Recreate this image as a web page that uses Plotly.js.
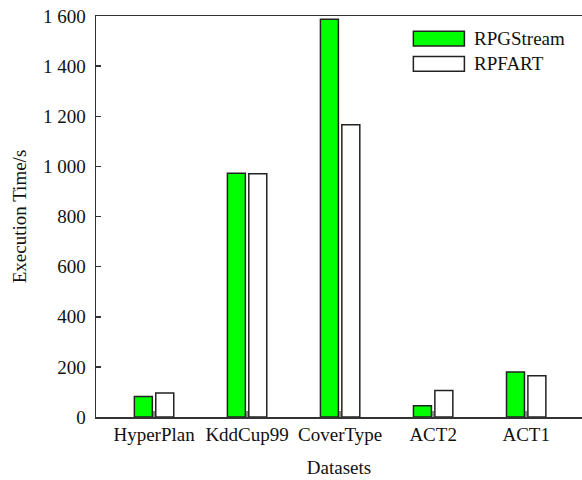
<!DOCTYPE html>
<html>
<head>
<meta charset="utf-8">
<script src="https://cdn.plot.ly/plotly-3.0.1.min.js"></script>
<style>html,body{margin:0;padding:0;background:#fff;}#chart{width:582px;height:480px;}</style>
</head>
<body>
<div id="chart"></div>
<script>
const categories = ["HyperPlan", "KddCup99", "CoverType", "ACT2", "ACT1"];
const seriesNames = ["RPGStream", "RPFART"];
const rpgstream = [82, 973, 1587, 45, 180];
const rpfart = [96, 971, 1166, 106, 165];
const yTicks = [0, 200, 400, 600, 800, 1000, 1200, 1400, 1600];

const font = {family: "Liberation Serif, Times New Roman, serif", size: 19, color: "#111"};

const traces = [
  {type: "bar", name: seriesNames[0], x: categories, y: rpgstream,
   marker: {color: "#00ff00", line: {color: "#222", width: 1.5}}, showlegend: false},
  {type: "bar", name: seriesNames[1], x: categories, y: rpfart,
   marker: {color: "#ffffff", line: {color: "#222", width: 1.5}}, showlegend: false}
];

const legendX0 = 0.653, legendW = 0.105;
const shapes = [
  {type: "rect", xref: "paper", yref: "paper", x0: legendX0, x1: legendX0 + legendW, y0: 0.925, y1: 0.962,
   fillcolor: "#00ff00", line: {color: "#222", width: 1.5}},
  {type: "rect", xref: "paper", yref: "paper", x0: legendX0, x1: legendX0 + legendW, y0: 0.862, y1: 0.899,
   fillcolor: "#ffffff", line: {color: "#222", width: 1.5}}
];
const annotations = [
  {xref: "paper", yref: "paper", x: legendX0 + legendW + 0.015, y: 0.9435, xanchor: "left", yanchor: "middle",
   text: seriesNames[0], showarrow: false, font: font},
  {xref: "paper", yref: "paper", x: legendX0 + legendW + 0.015, y: 0.8805, xanchor: "left", yanchor: "middle",
   text: seriesNames[1], showarrow: false, font: font}
];

const layout = {
  width: 582, height: 480,
  margin: {l: 96, r: 0, t: 16, b: 63},
  paper_bgcolor: "#fff", plot_bgcolor: "#fff",
  font: font,
  separators: ". ",
  barmode: "group",
  bargap: 0.54,
  bargroupgap: 0.16,
  showlegend: false,
  xaxis: {
    type: "category",
    range: [-0.624, 4.6],
    showline: true, linecolor: "#333", linewidth: 1.5, mirror: true,
    ticks: "inside", ticklen: 6, tickwidth: 2, tickcolor: "#888",
    showgrid: false, zeroline: false,
    tickfont: font,
    title: {text: "Datasets", font: font, standoff: 16}
  },
  yaxis: {
    range: [0, 1600],
    tickvals: yTicks,
    separatethousands: true,
    tickformat: ",d",
    showline: true, linecolor: "#333", linewidth: 1.5,
    ticks: "inside", ticklen: 5, tickwidth: 1.5, tickcolor: "#333",
    ticklabelstandoff: 5,
    showgrid: false, zeroline: false,
    tickfont: font,
    title: {text: "Execution Time/s", font: font, standoff: 11}
  },
  shapes: shapes,
  annotations: annotations
};

Plotly.newPlot("chart", traces, layout, {displayModeBar: false, staticPlot: true});
</script>
</body>
</html>
